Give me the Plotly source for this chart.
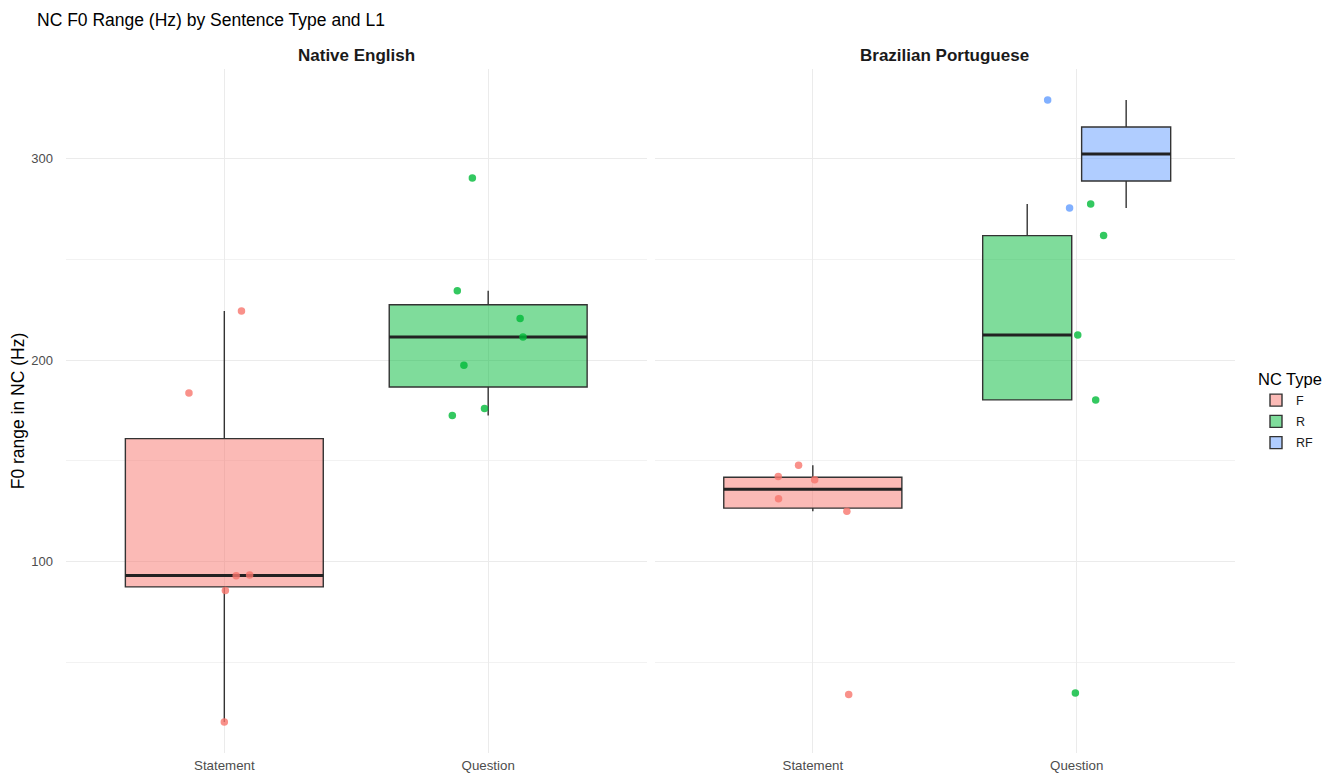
import numpy as np
import plotly.graph_objects as go

# ---------------- data ----------------
categories = ["Statement", "Question"]
panels = ["Native English", "Brazilian Portuguese"]
nc_types = ["F", "R", "RF"]

ne_statement_F = [224.5, 183.7, 93.0, 93.3, 85.6, 20.4]
ne_statement_F_jitter = [0.065, -0.134, 0.045, 0.096, 0.004, 0.0]

ne_question_R = [290.5, 234.5, 220.7, 211.6, 197.5, 176.0, 172.6]
ne_question_R_jitter = [-0.06, -0.117, 0.121, 0.132, -0.092, -0.014, -0.136]

bp_statement_F = [147.9, 142.3, 140.6, 131.2, 125.0, 34.0]
bp_statement_F_jitter = [-0.054, -0.131, 0.007, -0.130, 0.129, 0.136]

bp_question_R = [277.6, 261.9, 212.6, 180.3, 34.7]
bp_question_R_jitter = [0.053, 0.102, 0.004, 0.072, -0.005]

bp_question_RF = [329.2, 275.6]
bp_question_RF_jitter = [-0.110, -0.027]

y_ticks = [100, 200, 300]
y_minor = [50, 150, 250]

# ---------------- styling ----------------
fill = {"F": "rgba(248,118,109,0.5)", "R": "rgba(0,186,56,0.5)", "RF": "rgba(97,156,255,0.5)"}
pt = {"F": "rgba(248,118,109,0.8)", "R": "rgba(0,186,56,0.8)", "RF": "rgba(97,156,255,0.8)"}
FONT = "Liberation Sans, Arial, Helvetica, sans-serif"

# groups: (panel index, category, type, values, jitter)
groups = [
    (0, "Statement", "F", ne_statement_F, ne_statement_F_jitter),
    (0, "Question", "R", ne_question_R, ne_question_R_jitter),
    (1, "Statement", "F", bp_statement_F, bp_statement_F_jitter),
    (1, "Question", "R", bp_question_R, bp_question_R_jitter),
    (1, "Question", "RF", bp_question_RF, bp_question_RF_jitter),
]


def box_stats(vals):
    v = np.sort(np.asarray(vals, float))
    q1, med, q3 = np.percentile(v, [25, 50, 75])
    iqr = q3 - q1
    lo = v[v >= q1 - 1.5 * iqr].min()
    hi = v[v <= q3 + 1.5 * iqr].max()
    return q1, med, q3, lo, hi


fig = go.Figure()
shown = set()

# dodge positions (ggplot dodge2-like)
for p in range(2):
    pg = [g for g in groups if g[0] == p]
    counts = {c: sum(1 for g in pg if g[1] == c) for c in categories}
    maxn = max(counts.values())
    for cat in categories:
        cg = [g for g in pg if g[1] == cat]
        n = len(cg)
        if n == 0:
            continue
        slot = 0.75 / n
        w = slot * (0.9 if maxn > 1 else 1.0)
        base = categories.index(cat) + 1
        for i, g in enumerate(cg):
            center = base - 0.375 + slot * (i + 0.5)
            q1, med, q3, lo, hi = box_stats(g[3])
            xa = "x" if p == 0 else "x2"
            ya = "y" if p == 0 else "y2"
            t = g[2]
            fig.add_trace(go.Box(
                x=[center], q1=[q1], median=[med], q3=[q3],
                lowerfence=[lo], upperfence=[hi],
                width=w, whiskerwidth=0, boxpoints=False,
                fillcolor=fill[t], line=dict(color="#333333", width=1.4),
                name=t, legendgroup=t, showlegend=t not in shown,
                xaxis=xa, yaxis=ya, hoverinfo="skip",
            ))
            shown.add(t)
            # thicker median line (ggplot fatten)
            fig.add_trace(go.Scatter(
                x=[center - w / 2, center + w / 2], y=[med, med], mode="lines",
                line=dict(color="#222222", width=3), showlegend=False,
                xaxis=xa, yaxis=ya, hoverinfo="skip",
            ))

# jittered points on top
for g in groups:
    p, cat, t, vals, jit = g
    base = categories.index(cat) + 1
    xa = "x" if p == 0 else "x2"
    ya = "y" if p == 0 else "y2"
    fig.add_trace(go.Scatter(
        x=[base + j for j in jit], y=vals, mode="markers",
        marker=dict(color=pt[t], size=7.5, line=dict(width=0)),
        showlegend=False, xaxis=xa, yaxis=ya, hoverinfo="skip",
    ))

allv = np.concatenate([np.asarray(g[3]) for g in groups])
ymin, ymax = allv.min(), allv.max()
pad = 0.05 * (ymax - ymin)
yr = [ymin - pad, ymax + pad]

# page body has an 8px margin -> figure is 8px smaller than the window
W, H = 1333, 766
L, R, T, B = 58, 106, 61, 21
PW, PH = W - L - R, H - T - B
GAP = 8
panel_w = (PW - GAP) / 2

grid_major = "#EBEBEB"
xcommon = dict(range=[0.4, 2.6], tickvals=[1, 2], ticktext=categories,
               showgrid=True, gridcolor=grid_major, gridwidth=1, zeroline=False,
               showline=False, ticks="", ticklabelstandoff=3, automargin=False,
               tickfont=dict(family=FONT, size=13.3, color="#4D4D4D"))
ycommon = dict(range=yr, tickvals=y_ticks, showgrid=True, gridcolor=grid_major,
               gridwidth=1, zeroline=False, showline=False, ticks="", automargin=False,
               minor=dict(tickvals=y_minor, showgrid=True, gridcolor="#F2F2F2", gridwidth=0.7),
               tickfont=dict(family=FONT, size=13, color="#4D4D4D"))

fig.update_layout(
    width=W, height=H,
    margin=dict(l=L, r=R, t=T, b=B, autoexpand=False),
    paper_bgcolor="white", plot_bgcolor="white",
    font=dict(family=FONT, color="#1A1A1A"),
    title=dict(text="NC F0 Range (Hz) by Sentence Type and L1", x=29 / W, xanchor="left",
               xref="container", y=1 - 12 / H, yanchor="middle",
               font=dict(family=FONT, size=17.5, color="#000000")),
    xaxis=dict(domain=[0, panel_w / PW], **xcommon),
    xaxis2=dict(domain=[(panel_w + GAP) / PW, 1], anchor="y2", **xcommon),
    yaxis=dict(anchor="x", ticklabelstandoff=12,
               title=dict(text="F0 range in NC (Hz)", standoff=5,
                          font=dict(family=FONT, size=17.5, color="#000000")),
               **ycommon),
    yaxis2=dict(anchor="x2", matches="y", showticklabels=False, **ycommon),
    legend=dict(x=(1248 - L) / PW, xanchor="left", y=0.5, yanchor="middle",
                title=dict(text="NC Type", font=dict(family=FONT, size=16.5, color="#000000")),
                font=dict(family=FONT, size=12.5, color="#1A1A1A"),
                itemwidth=30, tracegroupgap=2, bgcolor="rgba(0,0,0,0)"),
    showlegend=True,
    annotations=[
        dict(text="<b>Native English</b>", x=(panel_w / 2) / PW, xref="paper", xanchor="center",
             y=1 + 14 / PH, yref="paper", yanchor="middle", showarrow=False,
             font=dict(family=FONT, size=17, color="#1A1A1A")),
        dict(text="<b>Brazilian Portuguese</b>", x=(panel_w * 1.5 + GAP) / PW, xref="paper",
             xanchor="center", y=1 + 14 / PH, yref="paper", yanchor="middle", showarrow=False,
             font=dict(family=FONT, size=17, color="#1A1A1A")),
    ],
)

fig.write_html("out.html")
